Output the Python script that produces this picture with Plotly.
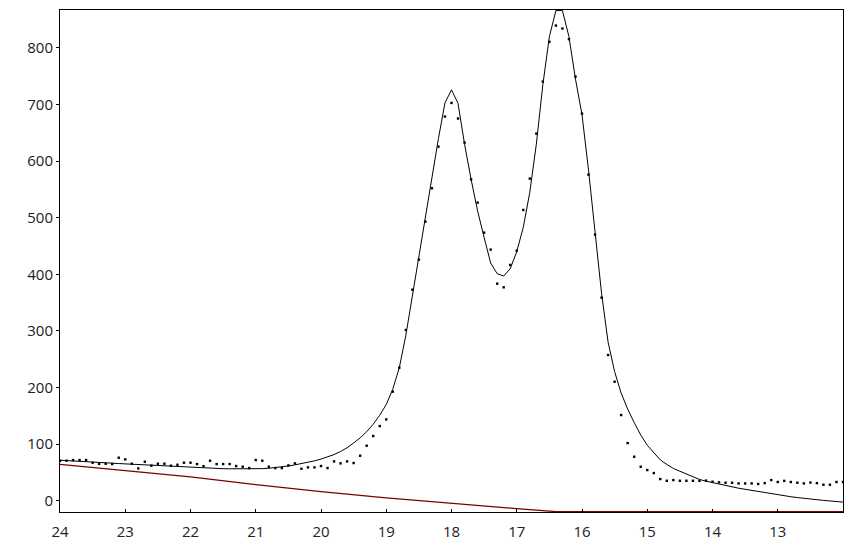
import plotly.graph_objects as go

# x positions (descending, step 0.1 from 24.0 to 12.0)
x_vals = [round(24.0 - 0.1 * i, 1) for i in range(121)]

# measured data points (dots)
data_y = [
    70.6, 70.6, 71.8, 71.8, 71.8, 67.0, 65.0, 65.3, 64.7, 75.9,   # 24.0 - 23.1
    73.0, 65.3, 57.0, 68.8, 61.8, 65.3, 65.3, 61.8, 63.5, 67.1,   # 23.0 - 22.1
    67.1, 64.7, 61.0, 70.6, 64.7, 64.7, 64.7, 61.2, 60.0, 57.6,   # 22.0 - 21.1
    71.8, 70.6, 60.0, 57.6, 57.6, 62.3, 65.9, 56.4, 58.8, 58.8,   # 21.0 - 20.1
    61.2, 57.6, 69.4, 65.9, 69.4, 66.5, 79.4, 97.1, 114.2, 131.8, # 20.0 - 19.1
    143.6, 192.6, 235.0, 301.6, 372.8, 425.9, 493.1, 552.0, 625.6, 678.7,  # 19.0 - 18.1
    702.8, 675.2, 632.7, 567.9, 526.7, 473.6, 443.6, 383.5, 377.0, 416.5,  # 18.0 - 17.1
    441.8, 513.7, 569.1, 648.6, 740.6, 810.7, 839.5, 834.3, 815.4, 749.4,  # 17.0 - 16.1
    684.0, 576.1, 470.1, 358.7, 257.4, 210.2, 151.3, 101.8, 77.7, 60.0,    # 16.0 - 15.1
    54.1, 48.8, 38.2, 35.2, 36.4, 35.2, 35.2, 35.2, 35.0, 35.5,   # 15.0 - 14.1
    33.5, 32.5, 31.7, 31.7, 30.5, 30.5, 30.5, 29.5, 31.0, 36.4,   # 14.0 - 13.1
    33.0, 35.0, 33.0, 31.7, 30.5, 32.0, 31.0, 28.2, 28.2, 33.0,   # 13.0 - 12.1
    33.0,                                                         # 12.0
]

# fitted curve
fit_y = [
    71.5, 71.0, 70.3, 69.6, 69.0, 68.3, 67.6, 67.0, 66.3, 65.6,   # 24.0 - 23.1
    65.0, 64.3, 63.6, 63.0, 62.3, 61.6, 61.0, 60.3, 59.6, 59.0,   # 23.0 - 22.1
    58.5, 58.0, 57.6, 57.2, 56.8, 56.5, 56.3, 56.1, 56.0, 56.0,   # 22.0 - 21.1
    56.2, 56.6, 57.3, 58.3, 59.6, 61.3, 63.3, 65.5, 67.8, 70.3,   # 21.0 - 20.1
    73.5, 77.0, 81.5, 87.0, 93.5, 102.0, 111.0, 122.0, 135.0, 151.0,  # 20.0 - 19.1
    170.0, 197.0, 235.0, 292.0, 362.0, 428.0, 495.0, 565.0, 640.0, 703.0,  # 19.0 - 18.1
    726.0, 702.0, 630.0, 568.0, 512.0, 465.0, 420.0, 401.0, 397.0, 410.0,  # 18.0 - 17.1
    440.0, 483.0, 545.0, 630.0, 735.0, 820.0, 866.0, 866.0, 820.0, 745.0,  # 17.0 - 16.1
    682.0, 584.0, 472.0, 366.0, 280.0, 228.0, 190.0, 162.0, 138.0, 116.0,  # 16.0 - 15.1
    98.0, 85.0, 72.0, 64.0, 57.0, 52.0, 47.0, 42.0, 37.6, 34.5,   # 15.0 - 14.1
    31.7, 29.0, 26.5, 24.5, 22.0, 20.0, 18.0, 16.0, 14.0, 12.0,   # 14.0 - 13.1
    10.0, 8.5, 7.0, 5.5, 4.0, 2.5, 1.5, 0.5, -0.5, -1.5,          # 13.0 - 12.1
    -2.5,                                                         # 12.0
]

# baseline
base_x = [24, 23, 22, 21, 20, 19, 18, 17, 16.4, 16, 15, 14, 13, 12]
base_y = [64.0, 53.5, 42.0, 28.5, 16.0, 5.0, -5.0, -14.0, -19.4, -19.4, -19.4, -19.4, -19.4, -19.4]

x_ticks = [24, 23, 22, 21, 20, 19, 18, 17, 16, 15, 14, 13]
y_ticks = [0, 100, 200, 300, 400, 500, 600, 700, 800]

fig = go.Figure()
fig.add_trace(go.Scatter(x=base_x, y=base_y, mode="lines",
                         line=dict(color="#7a0000", width=1.2), hoverinfo="skip"))
fig.add_trace(go.Scatter(x=x_vals, y=fit_y, mode="lines",
                         line=dict(color="black", width=1), hoverinfo="skip"))
fig.add_trace(go.Scatter(x=x_vals, y=data_y, mode="markers",
                         marker=dict(color="black", size=2.4, symbol="square",
                                     line=dict(width=0))))

fig.update_layout(
    width=845, height=532,
    margin=dict(l=52, r=10, t=2, b=28),
    paper_bgcolor="white", plot_bgcolor="white",
    showlegend=False,
    font=dict(family="Open Sans, Noto Sans, sans-serif", size=15, color="#222"),
)
fig.update_xaxes(range=[24, 12], tickvals=x_ticks, ticktext=[str(t) for t in x_ticks],
                 showgrid=False, zeroline=False, showline=True, linecolor="black",
                 linewidth=1, mirror=True, ticks="inside", ticklen=3, tickcolor="black",
                 ticklabelstandoff=6, automargin=False)
fig.update_yaxes(range=[-20, 867], tickvals=y_ticks, ticktext=[str(t) for t in y_ticks],
                 showgrid=False, zeroline=False, showline=True, linecolor="black",
                 linewidth=1, mirror=True, ticks="outside", ticklen=3, tickcolor="black",
                 automargin=False)

fig.write_html("out.html")
